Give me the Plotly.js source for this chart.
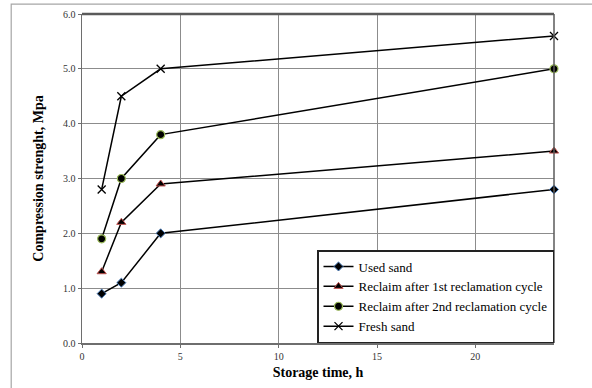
<!DOCTYPE html>
<html><head><meta charset="utf-8">
<script src="https://cdn.plot.ly/plotly-3.0.1.min.js"></script>
<style>body{margin:0;background:#fff}#c{width:592px;height:388px}</style>
</head><body><div id="c"></div>
<script>
var times = [1, 2, 4, 24];
var usedSand = [0.9, 1.1, 2.0, 2.8];
var reclaim1 = [1.3, 2.2, 2.9, 3.5];
var reclaim2 = [1.9, 3.0, 3.8, 5.0];
var freshSand = [2.8, 4.5, 5.0, 5.6];
var names = ["Used sand", "Reclaim after 1st reclamation cycle", "Reclaim after 2nd reclamation cycle", "Fresh sand"];
var xTicks = [0, 5, 10, 15, 20];
var yTicks = [0, 1, 2, 3, 4, 5, 6];

var line = {color: "#000", width: 1.5};
var traces = [
  {x: times, y: usedSand, name: names[0], mode: "lines+markers", line: line, cliponaxis: false,
   marker: {symbol: "diamond", size: 7, color: "#000", line: {color: "#4f81bd", width: 1}}},
  {x: times, y: reclaim1, name: names[1], mode: "lines+markers", line: line, cliponaxis: false,
   marker: {symbol: "triangle-up", size: 8, color: "#000", line: {color: "#c0504d", width: 1}}},
  {x: times, y: reclaim2, name: names[2], mode: "lines+markers", line: line, cliponaxis: false,
   marker: {symbol: "circle", size: 8, color: "#000", line: {color: "#9bbb59", width: 1.2}}},
  {x: times, y: freshSand, name: names[3], mode: "lines+markers", line: line, cliponaxis: false,
   marker: {symbol: "x-thin", size: 8, color: "#000", line: {color: "#000", width: 1.3}}}
];

var layout = {
  width: 592, height: 388,
  margin: {l: 82, r: 38, t: 14, b: 45},
  paper_bgcolor: "#fff", plot_bgcolor: "#fff",
  font: {family: "Liberation Serif, Times New Roman, serif", color: "#000"},
  showlegend: true,
  legend: {x: 1, y: 0, xanchor: "right", yanchor: "bottom",
    bgcolor: "#fff", bordercolor: "#222", borderwidth: 1.5,
    font: {size: 13, family: "Liberation Serif, serif"},
    tracegroupgap: 0, itemwidth: 30},
  xaxis: {range: [0, 24], tickvals: xTicks, ticktext: xTicks.map(String),
    showgrid: true, gridcolor: "#8c8c8c", gridwidth: 1,
    showline: true, linecolor: "#6e6e6e", linewidth: 1.5, mirror: false,
    ticks: "outside", ticklen: 3, tickcolor: "#6e6e6e",
    tickfont: {size: 10, color: "#333"}, zeroline: false,
    title: {text: "<b>Storage time, h</b>", font: {size: 14}, standoff: 6}},
  yaxis: {range: [0, 6], tickvals: yTicks, ticktext: yTicks.map(function(v){return v.toFixed(1);}),
    showgrid: true, gridcolor: "#8c8c8c", gridwidth: 1,
    showline: true, linecolor: "#6e6e6e", linewidth: 1.5,
    ticks: "outside", ticklen: 3, tickcolor: "#6e6e6e",
    tickfont: {size: 10, color: "#333"}, zeroline: false,
    title: {text: "<b>Compression strenght, Mpa</b>", font: {size: 14}, standoff: 16}},
  shapes: [
    {type: "rect", xref: "paper", yref: "paper", x0: -0.150, x1: 1.12, y0: -0.2, y1: 1.030,
     line: {color: "#a6a6a6", width: 1.2}, fillcolor: "rgba(0,0,0,0)", layer: "below"},
    {type: "line", xref: "paper", yref: "paper", x0: 0, x1: 1, y0: 1, y1: 1,
     line: {color: "#5a5a5a", width: 2.5}},
    {type: "line", xref: "paper", yref: "paper", x0: 1, x1: 1, y0: 0, y1: 1,
     line: {color: "#5a5a5a", width: 1.5}}
  ]
};
Plotly.newPlot("c", traces, layout, {staticPlot: true, displayModeBar: false});
</script></body></html>
